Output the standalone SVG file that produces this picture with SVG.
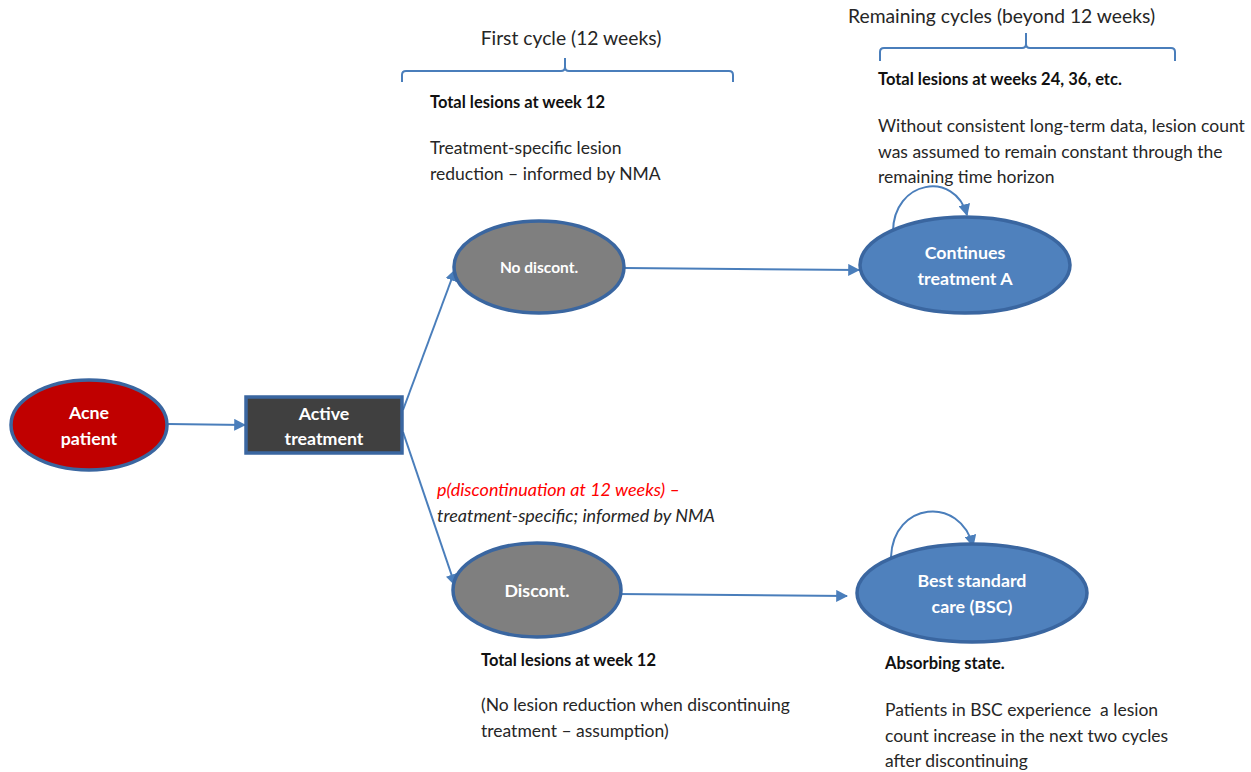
<svg xmlns="http://www.w3.org/2000/svg" width="1251" height="772" viewBox="0 0 1251 772">
<defs>
<marker id="ah" viewBox="0 0 10 10" refX="9" refY="5" markerWidth="12" markerHeight="12" markerUnits="userSpaceOnUse" orient="auto">
<path d="M0,0 L10,5 L0,10 Z" fill="#4A7EBB"/>
</marker>
<style>
.t{font-family:Lato,"Open Sans","Liberation Sans",sans-serif;font-size:17.5px;fill:#262626}
.b{font-weight:bold;fill:#111;font-size:16.5px}
.h{font-size:19.3px}
.i{font-style:italic;font-size:18px}
.w{font-family:Lato,"Open Sans","Liberation Sans",sans-serif;font-weight:bold;fill:#fff;text-anchor:middle;font-size:17.8px}
.e{stroke:#3A66A0;stroke-width:3.5}
.c{fill:none;stroke:#4A7EBB;stroke-width:2}
.br{fill:none;stroke:#4A7EBB;stroke-width:2}
</style>
</defs>
<rect width="1251" height="772" fill="#fff"/>
<g id="braces">
<path class="br" d="M402,82 L402,75 Q402,71 406,71 L561,71 Q565,71 565,67 L565,58 M565,67 Q565,71 569,71 L729,71 Q733,71 733,75 L733,82"/>
<path class="br" d="M880,61 L880,52 Q880,48 884,48 L1022,48 Q1026,48 1026,44 L1026,33 M1026,44 Q1026,48 1030,48 L1171,48 Q1175,48 1175,52 L1175,61"/>
</g>
<g id="labels">
<text class="t h" x="571" y="45" text-anchor="middle">First cycle (12 weeks)</text>
<text class="t b" x="430" y="108">Total lesions at week 12</text>
<text class="t" x="430" y="154">Treatment-specific lesion</text>
<text class="t" x="430" y="180">reduction – informed by NMA</text>
<text class="t h" x="848" y="23">Remaining cycles (beyond 12 weeks)</text>
<text class="t b" x="878" y="85">Total lesions at weeks 24, 36, etc.</text>
<text class="t" x="878" y="132">Without consistent long-term data, lesion count</text>
<text class="t" x="878" y="158">was assumed to remain constant through the</text>
<text class="t" x="878" y="183">remaining time horizon</text>
<text class="t i" x="437" y="496" style="fill:#FF0000">p(discontinuation at 12 weeks) –</text>
<text class="t i" x="437" y="522">treatment-specific; informed by NMA</text>
<text class="t b" x="481" y="666">Total lesions at week 12</text>
<text class="t" x="481" y="711">(No lesion reduction when discontinuing</text>
<text class="t" x="481" y="737">treatment – assumption)</text>
<text class="t b" x="885" y="669">Absorbing state.</text>
<text class="t" x="885" y="716">Patients in BSC experience&#160; a lesion</text>
<text class="t" x="885" y="742">count increase in the next two cycles</text>
<text class="t" x="885" y="767">after discontinuing</text>
</g>
<g id="connectors">
<path class="c" d="M168,424 L245,425" marker-end="url(#ah)"/>
<path class="c" d="M403,410 L455,270" marker-end="url(#ah)"/>
<path class="c" d="M403,432 L455,585" marker-end="url(#ah)"/>
<path class="c" d="M625,268 L859,270" marker-end="url(#ah)"/>
<path class="c" d="M618,594 L847,596" marker-end="url(#ah)"/>
<path class="c" d="M893,232 C893,180 955,170 967,215" marker-end="url(#ah)"/>
<path class="c" d="M891,557 C893,502 960,495 973,546" marker-end="url(#ah)"/>
</g>
<g id="acne">
<ellipse class="e" cx="89" cy="425" rx="78" ry="45" fill="#C00000"/>
<text class="w" x="89" y="419">Acne</text>
<text class="w" x="89" y="445">patient</text>
</g>
<g id="active">
<rect class="e" x="246" y="397" width="156" height="56" fill="#404040"/>
<text class="w" x="324" y="420">Active</text>
<text class="w" x="324" y="445">treatment</text>
</g>
<g id="nodiscont">
<ellipse class="e" cx="539" cy="267" rx="85" ry="46" fill="#7F7F7F"/>
<text class="w" x="539" y="273" style="font-size:15.5px">No discont.</text>
</g>
<g id="discont">
<ellipse class="e" cx="537" cy="590" rx="84" ry="47" fill="#7F7F7F"/>
<text class="w" x="537" y="597">Discont.</text>
</g>
<g id="continues">
<ellipse class="e" cx="965" cy="265" rx="105" ry="48" fill="#4F81BD"/>
<text class="w" x="965" y="259">Continues</text>
<text class="w" x="965" y="285">treatment A</text>
</g>
<g id="bsc">
<ellipse class="e" cx="972" cy="593" rx="115" ry="49" fill="#4F81BD"/>
<text class="w" x="972" y="587">Best standard</text>
<text class="w" x="972" y="613">care (BSC)</text>
</g>
</svg>
